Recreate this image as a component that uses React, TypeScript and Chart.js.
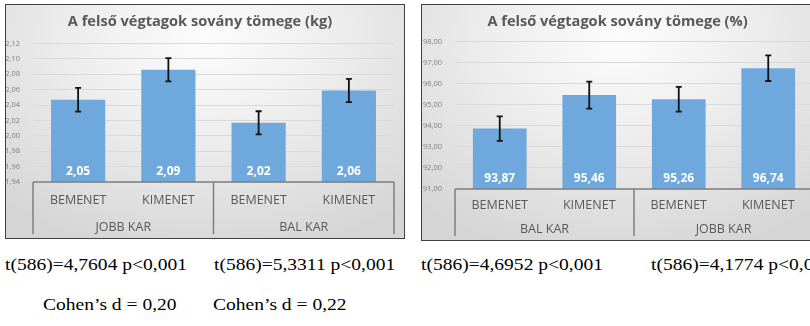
import React, { useEffect, useRef } from 'react';
import { Chart, registerables } from 'chart.js';

Chart.register(...registerables);

// ---------- data ----------
const innerLabels = ['BEMENET', 'KIMENET', 'BEMENET', 'KIMENET'];

const kgTitle = 'A felső végtagok sovány tömege (kg)';
const kgGroups = ['JOBB KAR', 'BAL KAR'];
const kgValues = [2.047, 2.086, 2.017, 2.059];
const kgErrors = [0.0155, 0.015, 0.015, 0.015];
const kgMin = 1.94;
const kgMax = 2.12;
const kgStep = 0.02;

const pctTitle = 'A felső végtagok sovány tömege (%)';
const pctGroups = ['BAL KAR', 'JOBB KAR'];
const pctValues = [93.87, 95.46, 95.26, 96.74];
const pctErrors = [0.58, 0.64, 0.59, 0.61];
const pctMin = 91;
const pctMax = 98;
const pctStep = 1;

const tTexts = [
  't(586)=4,7604 p<0,001',
  't(586)=5,3311 p<0,001',
  't(586)=4,6952 p<0,001',
  't(586)=4,1774 p<0,001',
];
const cohenTexts = ['Cohen’s d = 0,20', 'Cohen’s d = 0,22'];

// ---------- helpers ----------
const fmt = (v: number) => v.toFixed(2).replace('.', ',');
const FONT = '"Open Sans", sans-serif';
const GREY_TEXT = '#595959';

function makeDecor(errors: number[]) {
  return {
    id: 'decor',
    afterDatasetsDraw(chart: any) {
      const ctx = chart.ctx;
      const x = chart.scales.x;
      const y = chart.scales.y;
      const x2 = chart.scales.x2;
      const meta = chart.getDatasetMeta(0);
      const vals = chart.data.datasets[0].data as number[];
      ctx.save();
      // value labels
      ctx.fillStyle = '#ffffff';
      ctx.font = `bold 12px ${FONT}`;
      ctx.textAlign = 'center';
      ctx.textBaseline = 'middle';
      meta.data.forEach((bar: any, i: number) => {
        ctx.fillText(fmt(vals[i]), bar.x, y.bottom - 10);
      });
      // error bars
      ctx.strokeStyle = '#111111';
      ctx.lineWidth = 1.8;
      meta.data.forEach((bar: any, i: number) => {
        const hi = y.getPixelForValue(vals[i] + errors[i]);
        const lo = y.getPixelForValue(vals[i] - errors[i]);
        ctx.beginPath();
        ctx.moveTo(bar.x, hi);
        ctx.lineTo(bar.x, lo);
        ctx.moveTo(bar.x - 3, hi);
        ctx.lineTo(bar.x + 3, hi);
        ctx.moveTo(bar.x - 3, lo);
        ctx.lineTo(bar.x + 3, lo);
        ctx.stroke();
      });
      // category box
      ctx.strokeStyle = '#7f7f7f';
      ctx.lineWidth = 1.5;
      const top = chart.chartArea.bottom;
      const bottom = x2.bottom;
      const mid = x.getPixelForValue(1.5);
      ctx.beginPath();
      ctx.moveTo(x.left, top);
      ctx.lineTo(x.right, top);
      [x.left, mid, x.right].forEach((px: number) => {
        ctx.moveTo(px, top);
        ctx.lineTo(px, bottom);
      });
      ctx.stroke();
      ctx.restore();
    },
  };
}

interface ChartProps {
  title: string;
  groups: string[];
  values: number[];
  errors: number[];
  min: number;
  max: number;
  step: number;
  width: number;
  height: number;
  yWidth: number;
  padRight: number;
  titleBottom: number;
  xPad: number;
  xHeight: number;
  x2Pad: number;
  x2Height: number;
}

function BarBox(p: ChartProps) {
  const ref = useRef<HTMLCanvasElement | null>(null);
  useEffect(() => {
    if (!ref.current) return;
    const catTicks = {
      color: GREY_TEXT,
      font: { family: FONT, size: 12.5 },
      maxRotation: 0,
      autoSkip: false,
    };
    const chart = new Chart(ref.current, {
      type: 'bar',
      data: {
        labels: innerLabels,
        datasets: [
          {
            data: p.values,
            backgroundColor: '#6fa8dc',
            borderWidth: 0,
            categoryPercentage: 1,
            barPercentage: 0.6,
          },
        ],
      },
      options: {
        responsive: false,
        animation: false,
        devicePixelRatio: 1,
        layout: { padding: { left: 0, right: p.padRight, top: 0, bottom: 4 } },
        plugins: {
          legend: { display: false },
          tooltip: { enabled: false },
          title: {
            display: true,
            text: p.title,
            color: GREY_TEXT,
            font: { family: FONT, size: 14.6, weight: 'bold', lineHeight: 1 },
            padding: { top: 10, bottom: p.titleBottom },
          },
        },
        scales: {
          x: {
            type: 'category',
            offset: true,
            weight: 0,
            grid: { display: false, drawTicks: false },
            border: { display: false },
            ticks: { ...catTicks, padding: p.xPad },
            afterFit: (s: any) => {
              s.height = p.xHeight;
            },
          },
          x2: {
            type: 'category',
            position: 'bottom',
            labels: p.groups,
            offset: true,
            weight: 1,
            grid: { display: false, drawTicks: false },
            border: { display: false },
            ticks: { ...catTicks, padding: p.x2Pad },
            afterFit: (s: any) => {
              s.height = p.x2Height;
            },
          },
          y: {
            min: p.min,
            max: p.max,
            grid: { color: '#d9d9d9', drawTicks: false },
            border: { display: false },
            ticks: {
              stepSize: p.step,
              padding: 13,
              color: '#808080',
              font: { family: FONT, size: 7.5 },
              callback: (v: any) => fmt(Number(v)),
            },
            afterFit: (s: any) => {
              s.width = p.yWidth;
            },
          },
        },
      } as any,
      plugins: [makeDecor(p.errors)],
    });
    return () => chart.destroy();
  }, []);
  return <canvas ref={ref} width={p.width} height={p.height} style={{ display: 'block' }} />;
}

const boxStyle = (left: number, top: number, w: number, h: number): React.CSSProperties => ({
  position: 'absolute',
  left,
  top,
  width: w,
  height: h,
  boxSizing: 'border-box',
  border: '1px solid #404040',
  background:
    'radial-gradient(ellipse 75% 95% at 50% 15%, #fcfcfc 0%, #ededed 45%, #d5d5d5 100%)',
  overflow: 'hidden',
});

const textStyle = (left: number, top: number): React.CSSProperties => ({
  position: 'absolute',
  left,
  top,
  fontFamily: '"Liberation Serif", "Times New Roman", serif',
  fontSize: 16,
  lineHeight: '16px',
  whiteSpace: 'nowrap',
  color: '#000',
  transform: 'scaleX(1.22)',
  transformOrigin: 'left top',
});

export default function App() {
  const tLefts = [5, 214, 421, 651];
  const cLefts = [43, 213];
  return (
    <div
      style={{
        position: 'absolute',
        left: 0,
        top: 0,
        width: 810,
        height: 326,
        overflow: 'hidden',
        background: '#ffffff',
      }}
    >
      <div style={boxStyle(5, 4, 400, 235)}>
        <BarBox
          title={kgTitle}
          groups={kgGroups}
          values={kgValues}
          errors={kgErrors}
          min={kgMin}
          max={kgMax}
          step={kgStep}
          width={398}
          height={233}
          yWidth={27}
          padRight={10}
          titleBottom={14}
          xPad={10.5}
          xHeight={26}
          x2Pad={11.5}
          x2Height={26}
        />
      </div>
      <div style={boxStyle(421, 4, 400, 237)}>
        <BarBox
          title={pctTitle}
          groups={pctGroups}
          values={pctValues}
          errors={pctErrors}
          min={pctMin}
          max={pctMax}
          step={pctStep}
          width={398}
          height={235}
          yWidth={33}
          padRight={7}
          titleBottom={12}
          xPad={8.5}
          xHeight={24}
          x2Pad={8.5}
          x2Height={23}
        />
      </div>
      {tTexts.map((t, i) => (
        <div key={'t' + i} style={textStyle(tLefts[i], 257)}>
          {t}
        </div>
      ))}
      {cohenTexts.map((t, i) => (
        <div key={'c' + i} style={textStyle(cLefts[i], 297)}>
          {t}
        </div>
      ))}
    </div>
  );
}
